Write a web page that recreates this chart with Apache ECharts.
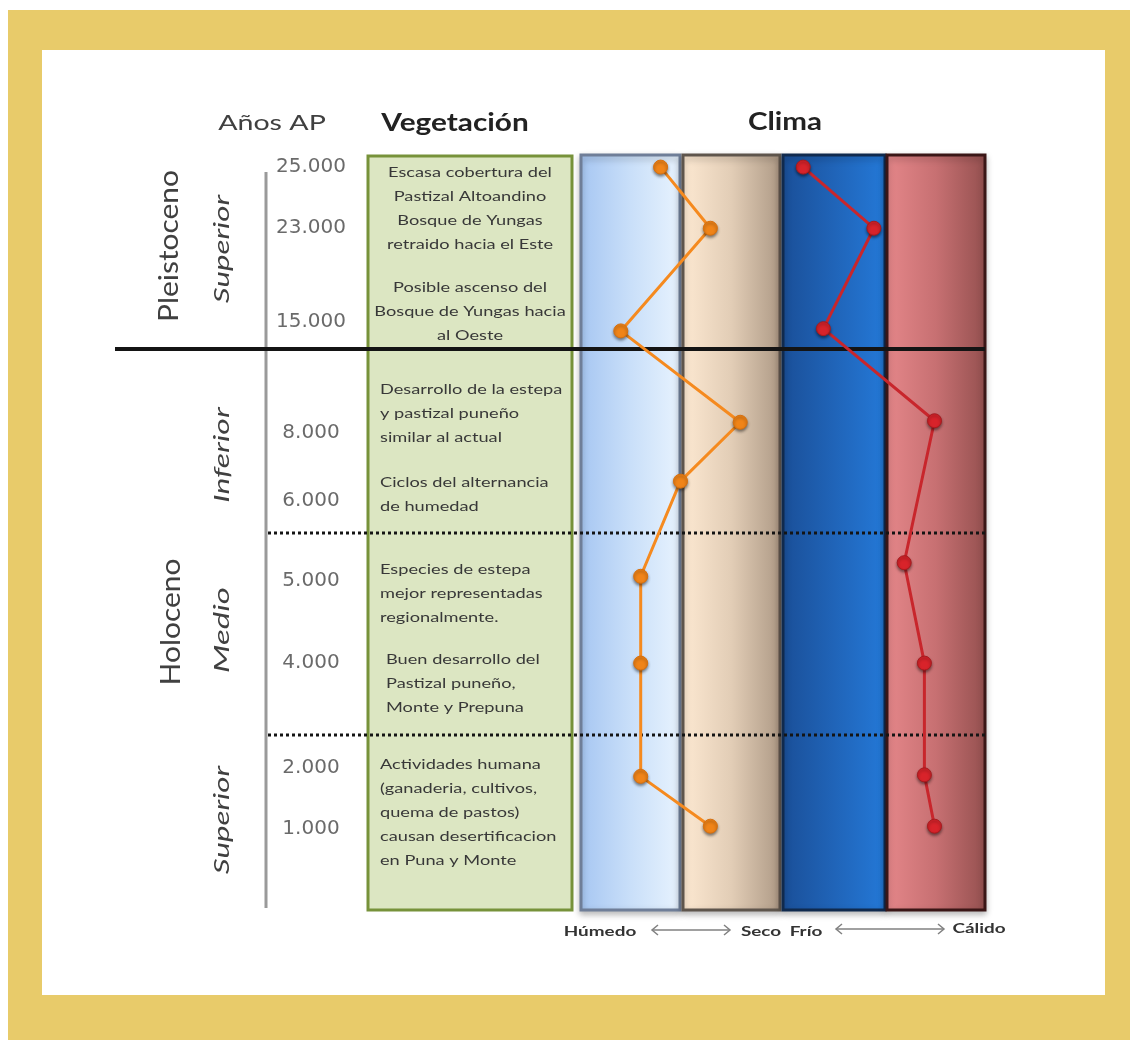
<!DOCTYPE html>
<html>
<head>
<meta charset="utf-8">
<script src="https://cdn.jsdelivr.net/npm/echarts@6/dist/echarts.min.js"></script>
<style>
  html, body { margin: 0; padding: 0; background: #ffffff; }
  #chart { width: 1137px; height: 1046px; }
</style>
</head>
<body>
<div id="chart"></div>
<script>
// Ages (years before present) and their place along the schematic time column (0 = top, 100 = bottom)
const ages = ['25.000', '23.000', '15.000', '8.000', '6.000', '5.000', '4.000', '2.000', '1.000'];
const agePos = [1.6, 9.7, 22.1, 36.8, 45.8, 56.4, 67.3, 81.1, 89.3];

// Humidity curve: 0 = húmedo ... 10 = seco
const humidity = [4, 6.5, 2, 8, 5, 3, 3, 3, 6.5];
const humidityPos = [1.6, 9.7, 23.3, 35.4, 43.2, 55.8, 67.3, 82.3, 88.9];

// Temperature curve: 0 = frío ... 10 = cálido (no reading at 6.000)
const temperature = [1, 4.5, 2, 7.5, 6, 7, 7, 7.5];
const temperaturePos = [1.6, 9.7, 23.0, 35.2, 54.0, 67.3, 82.1, 88.9];

// Vegetation notes, one block per stage
const vegetation = [
  { lines: ['Escasa cobertura del', 'Pastizal Altoandino', 'Bosque de Yungas', 'retraido hacia el Este'], y: 172, align: 'center' },
  { lines: ['Posible ascenso del', 'Bosque de Yungas hacia', 'al Oeste'], y: 287, align: 'center' },
  { lines: ['Desarrollo de la estepa', 'y pastizal puneño', 'similar al actual'], y: 389, align: 'left' },
  { lines: ['Ciclos del alternancia', 'de humedad'], y: 482, align: 'left' },
  { lines: ['Especies de estepa', 'mejor representadas', 'regionalmente.'], y: 569, align: 'left' },
  { lines: ['Buen desarrollo del', 'Pastizal puneño,', 'Monte y Prepuna'], y: 659, align: 'left', indent: 6 },
  { lines: ['Actividades humana', '(ganaderia, cultivos,', 'quema de pastos)', 'causan desertificacion', 'en Puna y Monte'], y: 764, align: 'left' }
];

const FONT = 'Lato, "Noto Sans", sans-serif';
const chart = echarts.init(document.getElementById('chart'));

const colTop = 155, colBottom = 910;

function column(x, w, stops, stroke) {
  return {
    type: 'rect', z: 1,
    shape: { x: x, y: colTop, width: w, height: colBottom - colTop },
    style: {
      fill: new echarts.graphic.LinearGradient(0, 0, 1, 0, stops),
      stroke: stroke, lineWidth: 3,
      shadowBlur: 6, shadowColor: 'rgba(0,0,0,0.25)', shadowOffsetY: 3
    }
  };
}

// text helper: wide-set lettering, optionally rotated to read bottom-to-top
function label(text, x, y, font, color, opts) {
  opts = opts || {};
  return {
    type: 'text', z: 5, x: x, y: y,
    rotation: opts.vertical ? Math.PI / 2 : 0,
    scaleX: opts.stretch || 1,
    style: { text: text, font: font, fill: color, align: opts.align || 'center', verticalAlign: 'middle' }
  };
}

const graphics = [
  // gold frame
  { type: 'rect', z: 0, shape: { x: 8, y: 10, width: 1122, height: 1030 }, style: { fill: '#E8CB6A' } },
  { type: 'rect', z: 0, shape: { x: 42, y: 50, width: 1063, height: 945 }, style: { fill: '#ffffff' } },

  // headers
  label('Años AP', 272, 123, '22px ' + FONT, '#404040', { stretch: 1.3 }),
  label('Vegetación', 455, 123, 'bold 24px ' + FONT, '#222222', { stretch: 1.24 }),
  label('Clima', 785, 122, 'bold 24px ' + FONT, '#222222', { stretch: 1.23 }),

  // epochs and sub-stages
  label('Pleistoceno', 170, 246, '26px ' + FONT, '#404040', { vertical: true, stretch: 1.15 }),
  label('Holoceno', 172, 622, '26px ' + FONT, '#404040', { vertical: true, stretch: 1.15 }),
  label('Superior', 222, 249, 'italic 22px ' + FONT, '#404040', { vertical: true, stretch: 1.42 }),
  label('Inferior', 222, 455, 'italic 22px ' + FONT, '#404040', { vertical: true, stretch: 1.45 }),
  label('Medio', 222, 630, 'italic 22px ' + FONT, '#404040', { vertical: true, stretch: 1.5 }),
  label('Superior', 222, 820, 'italic 22px ' + FONT, '#404040', { vertical: true, stretch: 1.42 }),

  // time axis line
  { type: 'line', z: 2, shape: { x1: 266, y1: 172, x2: 266, y2: 908 }, style: { stroke: '#9a9a9a', lineWidth: 3 } },

  // vegetation box
  { type: 'rect', z: 1, shape: { x: 368, y: 156, width: 204, height: 754 }, style: { fill: '#DCE6C2', stroke: '#77923A', lineWidth: 3 } },

  // climate columns
  column(581, 99, [{ offset: 0, color: '#A6C6F2' }, { offset: 0.5, color: '#C9DFF9' }, { offset: 1, color: '#E8F3FE' }], '#6F7E98'),
  column(683, 97, [{ offset: 0, color: '#FDE9D2' }, { offset: 0.5, color: '#E2CDB6' }, { offset: 1, color: '#AD9985' }], '#5E554C'),
  column(783, 102, [{ offset: 0, color: '#1A4F98' }, { offset: 0.5, color: '#2064B8' }, { offset: 1, color: '#2479D8' }], '#102A4E'),
  column(887, 98, [{ offset: 0, color: '#E5878A' }, { offset: 0.5, color: '#C77072' }, { offset: 1, color: '#94504F' }], '#3A1616'),

  // period boundaries
  { type: 'line', z: 3, shape: { x1: 115, y1: 349, x2: 985, y2: 349 }, style: { stroke: '#141414', lineWidth: 4 } },
  { type: 'line', z: 3, shape: { x1: 268, y1: 533, x2: 987, y2: 533 }, style: { stroke: '#141414', lineWidth: 3, lineDash: [3, 3] } },
  { type: 'line', z: 3, shape: { x1: 268, y1: 735, x2: 987, y2: 735 }, style: { stroke: '#141414', lineWidth: 3, lineDash: [3, 3] } },

  // scale captions under the columns
  label('Húmedo', 600, 931, 'bold 14px ' + FONT, '#333333', { stretch: 1.35 }),
  label('Seco', 761, 931, 'bold 14px ' + FONT, '#333333', { stretch: 1.35 }),
  label('Frío', 806, 931, 'bold 14px ' + FONT, '#333333', { stretch: 1.35 }),
  label('Cálido', 979, 928, 'bold 14px ' + FONT, '#333333', { stretch: 1.35 })
];

// double-headed arrows
function arrow(x1, x2, y) {
  const st = { stroke: '#808080', lineWidth: 1.5, fill: 'none' };
  graphics.push({ type: 'line', z: 5, shape: { x1: x1, y1: y, x2: x2, y2: y }, style: st });
  graphics.push({ type: 'polyline', z: 5, shape: { points: [[x1 + 6, y - 5], [x1, y], [x1 + 6, y + 5]] }, style: st });
  graphics.push({ type: 'polyline', z: 5, shape: { points: [[x2 - 6, y - 5], [x2, y], [x2 - 6, y + 5]] }, style: st });
}
arrow(652, 730, 930);
arrow(836, 944, 929);

// vegetation text
vegetation.forEach(function (b) {
  b.lines.forEach(function (t, i) {
    graphics.push(label(t,
      b.align === 'center' ? 470 : 380 + (b.indent || 0),
      b.y + i * 24,
      '14px ' + FONT, '#383838',
      { align: b.align, stretch: 1.3 }));
  });
});

const yAxisBase = { type: 'value', min: 0, max: 100, inverse: true, show: false };
const xAxisBase = { type: 'value', min: 0, max: 10, show: false };

chart.setOption({
  animation: false,
  backgroundColor: '#ffffff',
  graphic: { elements: graphics },
  grid: [
    { left: 266, width: 90, top: colTop, height: colBottom - colTop },
    { left: 581, width: 199, top: colTop, height: colBottom - colTop },
    { left: 783, width: 202, top: colTop, height: colBottom - colTop }
  ],
  xAxis: [
    Object.assign({ gridIndex: 0 }, xAxisBase),
    Object.assign({ gridIndex: 1 }, xAxisBase),
    Object.assign({ gridIndex: 2 }, xAxisBase)
  ],
  yAxis: [
    Object.assign({ gridIndex: 0 }, yAxisBase),
    Object.assign({ gridIndex: 1 }, yAxisBase),
    Object.assign({ gridIndex: 2 }, yAxisBase)
  ],
  series: [
    {
      name: 'Años AP', type: 'scatter', xAxisIndex: 0, yAxisIndex: 0, z: 6,
      symbolSize: 0,
      data: ages.map(function (a, i) { return { value: [5, agePos[i]], name: a }; }),
      label: {
        show: true, position: 'inside', formatter: '{b}',
        fontFamily: '"DejaVu Sans", sans-serif', fontSize: 20, color: '#454545'
      }
    },
    {
      name: 'Humedad', type: 'line', xAxisIndex: 1, yAxisIndex: 1, z: 6,
      data: humidity.map(function (v, i) { return [v, humidityPos[i]]; }),
      lineStyle: { color: '#F58A1F', width: 3 },
      symbol: 'circle', symbolSize: 14,
      itemStyle: { color: '#F08418', borderColor: '#D8700E', borderWidth: 1, shadowBlur: 3, shadowColor: 'rgba(0,0,0,0.45)', shadowOffsetY: 2 }
    },
    {
      name: 'Temperatura', type: 'line', xAxisIndex: 2, yAxisIndex: 2, z: 6,
      data: temperature.map(function (v, i) { return [v, temperaturePos[i]]; }),
      lineStyle: { color: '#C8262C', width: 3 },
      symbol: 'circle', symbolSize: 14,
      itemStyle: { color: '#D8232A', borderColor: '#A81A1E', borderWidth: 1, shadowBlur: 3, shadowColor: 'rgba(0,0,0,0.45)', shadowOffsetY: 2 }
    }
  ]
});
</script>
</body>
</html>
